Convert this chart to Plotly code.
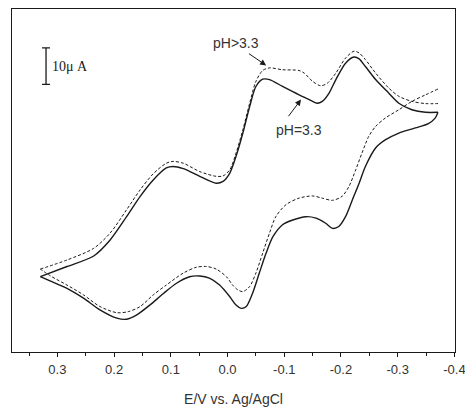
import plotly.graph_objects as go

# ---- data (E in V vs Ag/AgCl, I in microamps, arbitrary zero) ----
# pH = 3.3 (solid) : sweep from +0.33 V to -0.37 V
E_solid_fwd = [0.330, 0.283, 0.236, 0.207, 0.178, 0.154, 0.131, 0.108, 0.096, 0.078, 0.049, 0.020,
               0.008, -0.004, -0.015, -0.027, -0.039, -0.050, -0.062, -0.074, -0.097, -0.126,
               -0.144, -0.158, -0.167, -0.179, -0.191, -0.208, -0.223, -0.232, -0.243, -0.261,
               -0.284, -0.302, -0.325, -0.349, -0.371]
I_solid_fwd = [20.7, 23.5, 26.4, 30.8, 37.2, 42.8, 47.3, 50.6, 51.0, 50.4, 48.3, 46.4,
               46.9, 49.2, 53.8, 60.2, 67.5, 73.0, 75.0, 74.9, 73.0, 70.7,
               69.4, 68.4, 68.9, 71.2, 74.9, 79.4, 81.1, 80.6, 78.5, 74.9,
               71.2, 68.4, 66.6, 65.9, 65.9]
# pH = 3.3 (solid) : return sweep
E_solid_rev = [-0.371, -0.366, -0.354, -0.331, -0.302, -0.278, -0.261, -0.243, -0.232, -0.220,
               -0.208, -0.196, -0.185, -0.173, -0.156, -0.138, -0.115, -0.097, -0.080, -0.068,
               -0.056, -0.044, -0.033, -0.024, -0.015, -0.004, 0.014, 0.032, 0.049, 0.067,
               0.090, 0.113, 0.137, 0.160, 0.178, 0.195, 0.225, 0.254, 0.283, 0.312, 0.330]
I_solid_rev = [65.9, 64.3, 62.8, 61.6, 60.2, 58.3, 56.1, 51.0, 46.4, 41.8,
               37.2, 34.5, 34.0, 35.4, 36.8, 37.2, 36.3, 35.0, 31.7, 27.2,
               21.7, 16.1, 12.5, 12.0, 12.9, 15.2, 18.4, 20.3, 20.9, 20.7,
               18.9, 16.1, 12.9, 10.2, 9.0, 9.3, 11.6, 14.8, 17.5, 19.5, 20.7]

# pH > 3.3 (dashed) : sweep from +0.33 V to -0.37 V
E_dash_fwd = [0.330, 0.283, 0.236, 0.207, 0.178, 0.154, 0.131, 0.108, 0.096, 0.078, 0.049, 0.020,
              0.008, -0.004, -0.015, -0.027, -0.039, -0.050, -0.062, -0.074, -0.097, -0.126,
              -0.135, -0.150, -0.164, -0.176, -0.191, -0.208, -0.223, -0.232, -0.243, -0.261,
              -0.284, -0.302, -0.325, -0.349, -0.371]
I_dash_fwd = [22.8, 25.3, 28.5, 32.7, 39.1, 44.6, 49.0, 51.9, 52.4, 51.9, 49.6, 48.3,
              48.4, 50.1, 54.7, 61.1, 68.4, 74.4, 77.4, 78.1, 77.6, 77.4,
              76.7, 74.4, 73.2, 73.9, 76.7, 80.8, 82.7, 82.2, 80.4, 76.7,
              72.6, 70.3, 68.9, 68.3, 68.3]
# pH > 3.3 (dashed) : return sweep
E_dash_rev = [-0.371, -0.349, -0.325, -0.302, -0.278, -0.261, -0.249, -0.237, -0.226, -0.214,
              -0.202, -0.185, -0.167, -0.150, -0.126, -0.103, -0.085, -0.074, -0.062, -0.050,
              -0.039, -0.027, -0.018, -0.009, 0.002, 0.020, 0.037, 0.055, 0.078, 0.108,
              0.131, 0.154, 0.175, 0.195, 0.225, 0.254, 0.283, 0.312, 0.330]
I_dash_rev = [72.3, 70.7, 68.9, 66.6, 64.3, 62.0, 59.3, 54.7, 50.1, 45.5,
              42.8, 41.7, 42.3, 42.9, 42.3, 40.5, 37.2, 32.7, 27.2, 21.7,
              18.0, 16.6, 17.1, 18.4, 20.7, 22.8, 23.5, 23.3, 21.7, 18.4,
              15.7, 12.5, 11.1, 10.8, 12.5, 15.7, 18.4, 20.9, 22.8]

tick_vals = [0.3, 0.2, 0.1, 0.0, -0.1, -0.2, -0.3, -0.4]
tick_text = ["0.3", "0.2", "0.1", "0.0", "-0.1", "-0.2", "-0.3", "-0.4"]

# scale bar (10 uA)
scale_E = [0.320]
scale_I = [78.6]
scale_half = [5.0]

ink = "#1a1a1a"
fig = go.Figure()

for E, I in [(E_solid_fwd, I_solid_fwd), (E_solid_rev, I_solid_rev)]:
    fig.add_trace(go.Scatter(x=E, y=I, mode="lines", line=dict(color=ink, width=1.4, shape="spline", smoothing=0.8),
                             hoverinfo="skip", showlegend=False))
for E, I in [(E_dash_fwd, I_dash_fwd), (E_dash_rev, I_dash_rev)]:
    fig.add_trace(go.Scatter(x=E, y=I, mode="lines", line=dict(color=ink, width=1.0, dash="3px,2px", shape="spline", smoothing=0.8),
                             hoverinfo="skip", showlegend=False))

fig.add_trace(go.Scatter(x=scale_E, y=scale_I, mode="markers",
                         marker=dict(size=1, color="rgba(0,0,0,0)"),
                         error_y=dict(type="data", array=scale_half, symmetric=True, width=4, thickness=1.3, color=ink),
                         hoverinfo="skip", showlegend=False))

fig.add_annotation(x=0.313, y=78.5, xref="x", yref="y", text="10μ A", showarrow=False, xanchor="left",
                   font=dict(family="Liberation Serif, Times New Roman, serif", size=14, color=ink))

fig.add_annotation(x=-0.068, y=78.8, ax=-0.0351, ay=82.3, axref="x", ayref="y", xref="x", yref="y",
                   text="", showarrow=True, arrowhead=2, arrowsize=1.2, arrowwidth=1, arrowcolor=ink)
fig.add_annotation(x=-0.0153, y=85.0, xref="x", yref="y", text="pH>3.3", showarrow=False,
                   font=dict(family="Liberation Sans, Arial, sans-serif", size=14, color="#333"))
fig.add_annotation(x=-0.1295, y=69.4, ax=-0.1054, ay=64.4, axref="x", ayref="y", xref="x", yref="y",
                   text="", showarrow=True, arrowhead=2, arrowsize=1.2, arrowwidth=1, arrowcolor=ink)
fig.add_annotation(x=-0.1265, y=61.1, xref="x", yref="y", text="pH=3.3", showarrow=False,
                   font=dict(family="Liberation Sans, Arial, sans-serif", size=14, color="#333"))

fig.update_layout(
    width=465, height=412,
    margin=dict(l=12, r=10, t=9, b=60),
    paper_bgcolor="white", plot_bgcolor="white",
    font=dict(family="Liberation Sans, Arial, sans-serif", color="#333"),
    xaxis=dict(range=[0.380, -0.401], tickvals=tick_vals, ticktext=tick_text,
               ticks="outside", ticklen=4, tickwidth=1, tickcolor=ink,
               minor=dict(ticks="outside", ticklen=3, dtick=0.05, tick0=0.0, tickcolor=ink, showgrid=False),
               showline=True, linecolor=ink, linewidth=1, mirror=True,
               showgrid=False, zeroline=False, automargin=False, ticklabeloverflow="allow",
               tickfont=dict(size=13, color="#333"), ticklabelstandoff=1,
               title=dict(text="E/V vs. Ag/AgCl", font=dict(size=14, color="#333"), standoff=18)),
    yaxis=dict(range=[0, 94.3], showticklabels=False, ticks="",
               showline=True, linecolor=ink, linewidth=1, mirror=True,
               showgrid=False, zeroline=False),
)

fig.write_html("out.html", config={"displayModeBar": False},
               post_script="document.body.style.margin='0';document.body.style.padding='0';")
